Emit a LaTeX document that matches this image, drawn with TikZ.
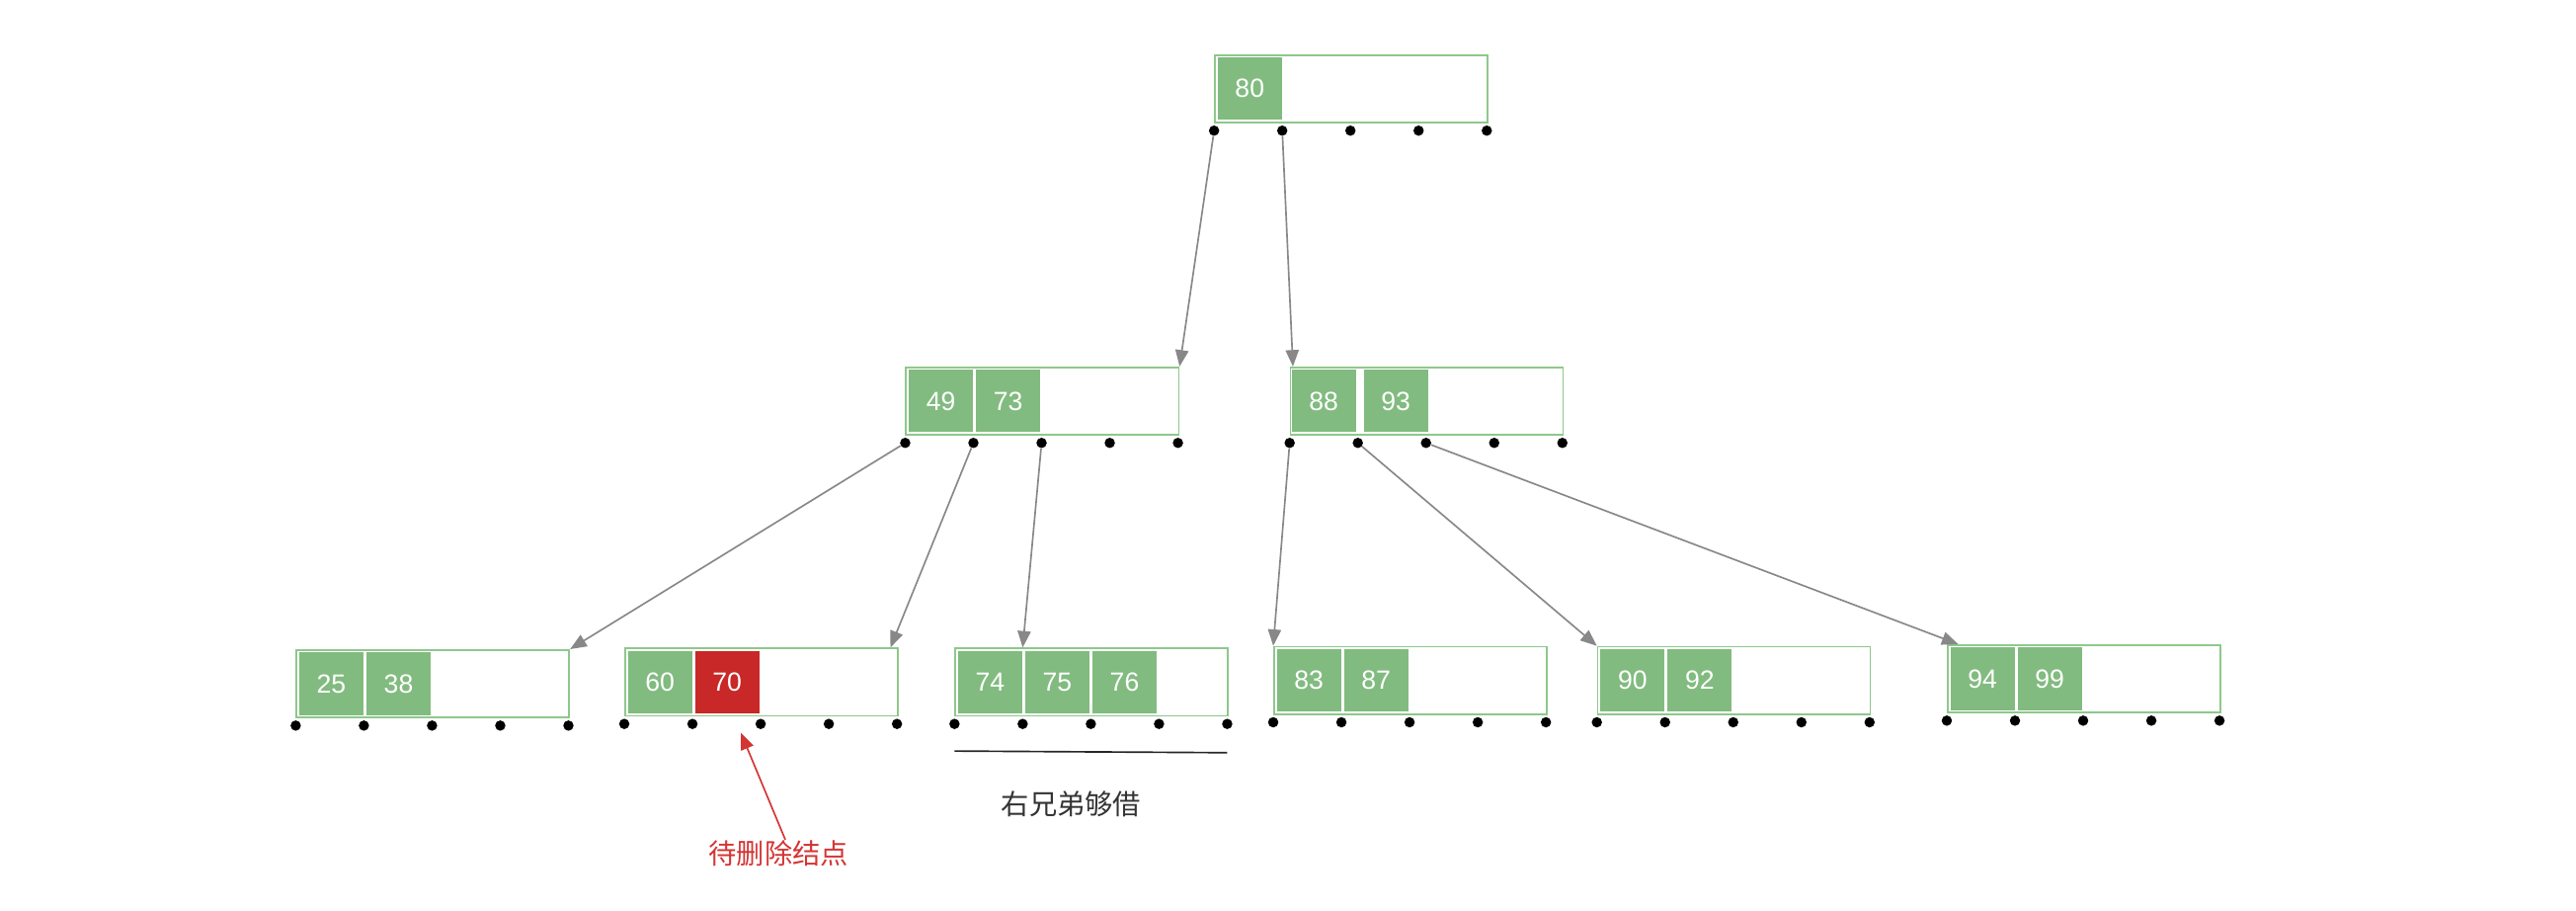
\documentclass[tikz,border=0pt]{standalone}
\usepackage{fontspec}
\setmainfont{Liberation Sans}
\newfontfamily\cjkfont{Noto Sans CJK SC}
\usetikzlibrary{arrows.meta, positioning, calc}
\definecolor{keygreen}{RGB}{130,187,128}
\definecolor{boxgreen}{RGB}{142,200,140}
\definecolor{delred}{RGB}{200,40,40}
\definecolor{notered}{RGB}{212,52,52}
\definecolor{linkgray}{RGB}{136,136,136}
\tikzset{
  % B-tree node frame
  nodebox/.style={
    rectangle, draw=boxgreen, line width=1pt, minimum width=166pt,
    minimum height=41pt, inner sep=0pt, anchor=north west
  },
  % Key cell (parameterized by fill colour)
  keycell/.style={
    rectangle, fill=#1, text=white, font=\fontsize{16}{16}\selectfont,
    minimum width=39pt, minimum height=38pt, inner sep=0pt
  },
  keycell/.default=keygreen,
  ptrdot/.style={circle, fill=black, minimum size=6.3pt, inner sep=0pt},
  link/.style={-{Triangle[length=10pt, width=8pt]}, line width=1pt, color=linkgray},
  delarrow/.style={-{Triangle[length=10pt, width=8pt]}, line width=1pt, color=notered},
  note/.style={font=\fontsize{17}{17}\selectfont\cjkfont, inner sep=0pt}
}
% frame plus five pointer dots: name-0 ... name-4
\newcommand{\treenode}[3]{%
  \node[nodebox] (#1) at (#2,#3) {};
  \foreach \i in {0,...,4}
    \node[ptrdot] (#1-\i) at ($(#1.south west)+(\i*41.5,4.5)$) {};
}

\begin{document}
\begin{tikzpicture}[x=1pt, y=-1pt]
  \useasboundingbox (0,0) rectangle (1568,554);

  % Root
  \treenode{root}{739}{33}
  \node[keycell, right=2pt of root.west] (k80) {80};

  % Second level
  \treenode{midL}{551}{223}
  \node[keycell, right=2pt of midL.west] (k49) {49};
  \node[keycell, right=1.5pt of k49] (k73) {73};

  \treenode{midR}{785}{223}
  \node[keycell, right=1pt of midR.west] (k88) {88};
  \node[keycell, right=4.5pt of k88] (k93) {93};

  % Leaves
  \treenode{leafA}{180}{395}
  \node[keycell, right=2pt of leafA.west] (k25) {25};
  \node[keycell, right=1.5pt of k25] (k38) {38};

  \treenode{leafB}{380}{394}
  \node[keycell, right=2pt of leafB.west] (k60) {60};
  \node[keycell=delred, right=1.5pt of k60] (k70) {70};

  \treenode{leafC}{581}{394}
  \node[keycell, right=2pt of leafC.west] (k74) {74};
  \node[keycell, right=1.5pt of k74] (k75) {75};
  \node[keycell, right=1.5pt of k75] (k76) {76};

  \treenode{leafD}{775}{393}
  \node[keycell, right=2pt of leafD.west] (k83) {83};
  \node[keycell, right=1.5pt of k83] (k87) {87};

  \treenode{leafE}{972}{393}
  \node[keycell, right=2pt of leafE.west] (k90) {90};
  \node[keycell, right=1.5pt of k90] (k92) {92};

  \treenode{leafF}{1185}{392}
  \node[keycell, right=2pt of leafF.west] (k94) {94};
  \node[keycell, right=1.5pt of k94] (k99) {99};

  % Child pointers
  \draw[link] (root-0) -- (midL.north east);
  \draw[link] (root-1) -- ([xshift=2pt]midR.north west);
  \draw[link] (midL-0) -- (leafA.north east);
  \draw[link] (midL-1) -- ([xshift=-5pt]leafB.north east);
  \draw[link] (midL-2) -- (leafC-1 |- leafC.north);
  \draw[link] (midR-0) -- (leafD.north west);
  \draw[link] (midR-1) -- (leafE.north west);
  \draw[link] (midR-2) -- ([xshift=7pt]leafF.north west);

  % Notes
  \coordinate (barL) at ($(leafC.south west)+(0,21)$);
  \coordinate (barR) at ($(leafC.south east)+(-1,22)$);
  \draw[line width=1pt, black!85] (barL) -- (barR);
  \node[note, text=black!80] (borrow) at (652,489) {右兄弟够借};

  \node[note, text=notered] (dellbl) at (474,519) {待删除结点};
  \coordinate (deltip) at (451,446);
  \draw[delarrow] ([xshift=4pt]dellbl.north) -- (deltip);
\end{tikzpicture}
\end{document}
